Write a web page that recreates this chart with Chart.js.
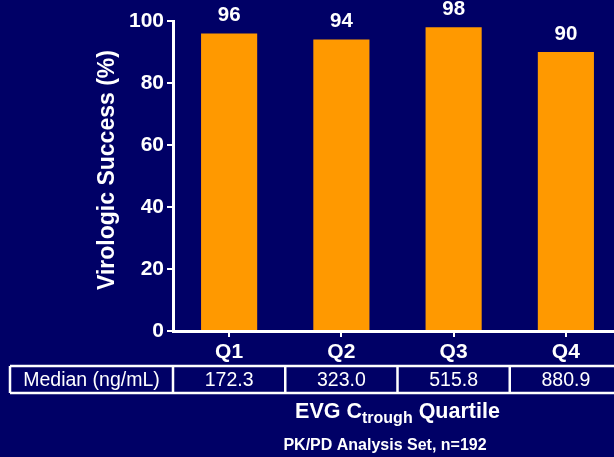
<!DOCTYPE html>
<html>
<head>
<meta charset="utf-8">
<script src="https://cdn.jsdelivr.net/npm/chart.js@4"></script>
<style>
  html, body { margin: 0; padding: 0; background: #000066; overflow: hidden; }
  #wrap { width: 622px; height: 457px; }
</style>
</head>
<body>
<div id="wrap"><canvas id="c" width="622" height="457"></canvas></div>
<script>
const categories = ['Q1', 'Q2', 'Q3', 'Q4'];
const successPct = [96, 94, 98, 90];
const medianCtrough = ['172.3', '323.0', '515.8', '880.9'];
const rowLabel = 'Median (ng/mL)';
const yAxisTitle = 'Virologic Success (%)';
const footnote = 'PK/PD Analysis Set, n=192';

const FONT = 'Arial, "Liberation Sans", sans-serif';
const WHITE = '#ffffff';

// Axis title, value labels, quartile table and caption drawn around the plot
const extras = {
  id: 'extras',
  afterDraw(chart) {
    const ctx = chart.ctx;
    const x = chart.scales.x;
    const area = chart.chartArea;
    ctx.save();
    ctx.fillStyle = WHITE;

    // rotated y-axis title
    ctx.save();
    ctx.translate(108, 170);
    ctx.rotate(-Math.PI / 2);
    ctx.font = 'bold 23px ' + FONT;
    ctx.textAlign = 'center';
    ctx.textBaseline = 'middle';
    ctx.fillText(yAxisTitle, 0, 0);
    ctx.restore();

    // bar values
    ctx.font = 'bold 20.5px ' + FONT;
    ctx.textAlign = 'center';
    ctx.textBaseline = 'middle';
    chart.getDatasetMeta(0).data.forEach((bar, i) => {
      ctx.fillText(String(successPct[i]), bar.x, bar.y - 18);
    });

    // table of medians, aligned with the category bands
    const top = 366, bottom = 393;
    const band = (area.right - area.left) / categories.length;
    ctx.strokeStyle = WHITE;
    ctx.lineWidth = 2.5;
    ctx.beginPath();
    ctx.moveTo(10, top); ctx.lineTo(chart.width, top);
    ctx.moveTo(10, bottom); ctx.lineTo(chart.width, bottom);
    ctx.moveTo(10, top); ctx.lineTo(10, bottom);
    for (let i = 0; i <= categories.length; i++) {
      const ex = area.left + i * band;
      ctx.moveTo(ex, top); ctx.lineTo(ex, bottom);
    }
    ctx.stroke();

    ctx.font = '19.5px ' + FONT;
    const midY = (top + bottom) / 2 + 1;
    ctx.fillText(rowLabel, (10 + area.left) / 2, midY);
    medianCtrough.forEach((v, i) => {
      ctx.fillText(v, x.getPixelForValue(i), midY);
    });

    // axis caption: EVG C(trough) Quartile
    const partA = 'EVG C', sub = 'trough', partB = ' Quartile';
    const mainFont = 'bold 21.5px ' + FONT, subFont = 'bold 16px ' + FONT;
    ctx.font = mainFont; const wA = ctx.measureText(partA).width, wB = ctx.measureText(partB).width;
    ctx.font = subFont; const wS = ctx.measureText(sub).width;
    const total = wA + wS + wB;
    let cx = (area.left + area.right) / 2 - total / 2;
    const base = 418;
    ctx.textAlign = 'left';
    ctx.textBaseline = 'alphabetic';
    ctx.font = mainFont; ctx.fillText(partA, cx, base); cx += wA;
    ctx.font = subFont; ctx.fillText(sub, cx, base + 5); cx += wS;
    ctx.font = mainFont; ctx.fillText(partB, cx, base);

    // footnote
    ctx.font = 'bold 16px ' + FONT;
    ctx.textAlign = 'center';
    ctx.textBaseline = 'alphabetic';
    ctx.fillText(footnote, 385, 450);
    ctx.restore();
  }
};

new Chart(document.getElementById('c'), {
  type: 'bar',
  data: {
    labels: categories,
    datasets: [{
      data: successPct,
      backgroundColor: '#FF9900',
      borderWidth: 0,
      barPercentage: 1,
      categoryPercentage: 0.5
    }]
  },
  options: {
    responsive: false,
    devicePixelRatio: 1,
    animation: false,
    layout: { padding: { left: 0, top: 21, right: 0, bottom: 0 } },
    plugins: { legend: { display: false }, tooltip: { enabled: false } },
    scales: {
      y: {
        min: 0, max: 100,
        ticks: { stepSize: 20, color: WHITE, font: { family: FONT, size: 21, weight: 'bold' }, padding: 3 },
        grid: { drawOnChartArea: false, drawTicks: true, tickLength: 6, color: WHITE, lineWidth: 2 },
        border: { display: true, color: WHITE, width: 3 },
        afterFit(scale) { scale.width = 173; }
      },
      x: {
        offset: true,
        ticks: { color: WHITE, font: { family: FONT, size: 21, weight: 'bold' }, padding: 3 },
        grid: { offset: false, drawOnChartArea: false, drawTicks: true, tickLength: 6, color: WHITE, lineWidth: 2 },
        border: { display: true, color: WHITE, width: 3 },
        afterFit(scale) { scale.height = 126; }
      }
    }
  },
  plugins: [extras]
});
</script>
</body>
</html>
